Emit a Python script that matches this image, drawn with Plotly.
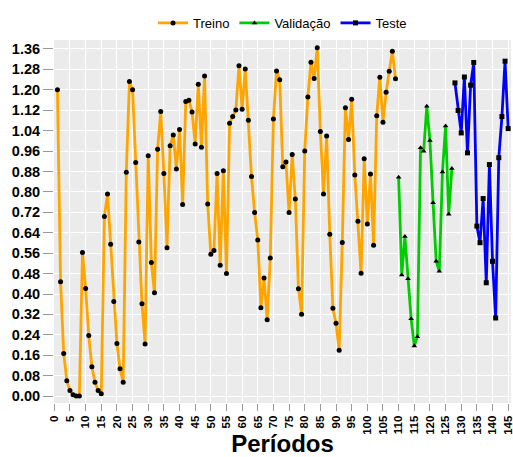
import plotly.graph_objects as go

treino_x = list(range(1, 110))
treino_y = [1.20, 0.448, 0.167, 0.060, 0.022, 0.005, 0.0, 0.0, 0.563, 0.422,
            0.237, 0.115, 0.054, 0.022, 0.009, 0.704, 0.792, 0.595, 0.371, 0.206,
            0.107, 0.054, 0.877, 1.232, 1.200, 0.915, 0.604, 0.362, 0.204, 0.942,
            0.523, 0.405, 0.967, 1.115, 0.872, 0.581, 0.981, 1.023, 0.890, 1.044,
            0.751, 1.154, 1.159, 1.113, 0.988, 1.222, 0.975, 1.254, 0.753, 0.556,
            0.570, 0.872, 0.513, 0.883, 0.480, 1.069, 1.095, 1.121, 1.294, 1.124,
            1.281, 1.081, 0.860, 0.719, 0.612, 0.346, 0.463, 0.299, 0.541, 1.086,
            1.274, 1.239, 0.898, 0.917, 0.719, 0.946, 0.772, 0.421, 0.321, 0.960,
            1.172, 1.308, 1.244, 1.365, 1.037, 0.792, 1.019, 0.634, 0.344, 0.285,
            0.180, 0.602, 1.130, 1.005, 1.163, 0.866, 0.685, 0.481, 0.930, 0.674,
            0.870, 0.591, 1.098, 1.249, 1.073, 1.190, 1.273, 1.351, 1.243]

valid_x = list(range(110, 128))
valid_y = [0.857, 0.474, 0.625, 0.460, 0.303, 0.196, 0.233, 0.973, 0.959, 1.135,
           1.001, 0.757, 0.528, 0.489, 0.878, 1.058, 0.712, 0.892]

teste_x = list(range(128, 146))
teste_y = [1.227, 1.119, 1.031, 1.250, 0.953, 1.218, 1.307, 0.666, 0.601, 0.774,
           0.444, 0.907, 0.528, 0.306, 0.934, 1.095, 1.312, 1.048]

x_ticks = list(range(0, 146, 5))
y_ticks = [round(i * 0.08, 2) for i in range(18)]

FONT = "Liberation Sans, Arial, sans-serif"

fig = go.Figure()
series = [
    ("Treino", treino_x, treino_y, "#FFA500", "circle", 5),
    ("Validação", valid_x, valid_y, "#00CD00", "triangle-up", 5),
    ("Teste", teste_x, teste_y, "#0000FF", "square", 5),
]
for name, xs, ys, col, sym, ms in series:
    fig.add_trace(go.Scatter(
        x=xs, y=ys, name=name, mode="lines+markers",
        line=dict(color=col, width=2.8),
        marker=dict(color="black", symbol=sym, size=ms),
    ))

fig.update_layout(
    width=513, height=457,
    margin=dict(l=54, r=2, t=40, b=54, autoexpand=False),
    paper_bgcolor="white",
    plot_bgcolor="#EBEBEB",
    font=dict(family=FONT, color="black"),
    showlegend=True,
    legend=dict(orientation="h", x=0.5, xanchor="center", y=1.047, yanchor="middle",
                font=dict(size=13, color="black", family=FONT), itemwidth=30,
                bgcolor="rgba(0,0,0,0)", tracegroupgap=0),
)
fig.update_xaxes(
    range=[-0.1, 145.9], tickmode="array", tickvals=x_ticks,
    ticktext=[f"<b>{v}</b>" for v in x_ticks], tickangle=-90,
    tickfont=dict(size=11.5, color="black", family=FONT),
    ticklabeloverflow="allow",
    showgrid=True, gridcolor="white", gridwidth=1,
    ticks="outside", ticklen=7, tickcolor="#999999", tickwidth=1,
    zeroline=False, showline=False, automargin=False,
    title=dict(text="<b>Períodos</b>", font=dict(size=24, color="black", family=FONT), standoff=5),
)
fig.update_yaxes(
    range=[-0.027, 1.395], tickmode="array", tickvals=y_ticks,
    ticktext=[f"<b>{v:.2f}</b>" for v in y_ticks],
    tickfont=dict(size=14.5, color="black", family=FONT),
    ticklabeloverflow="allow",
    showgrid=True, gridcolor="white", gridwidth=1,
    ticks="outside", ticklen=10, tickcolor="#999999", tickwidth=1,
    zeroline=False, showline=False, automargin=False,
)

fig.write_html("out.html", config={"displayModeBar": False},
               post_script="document.body.style.margin='0';document.body.style.overflow='hidden';")
